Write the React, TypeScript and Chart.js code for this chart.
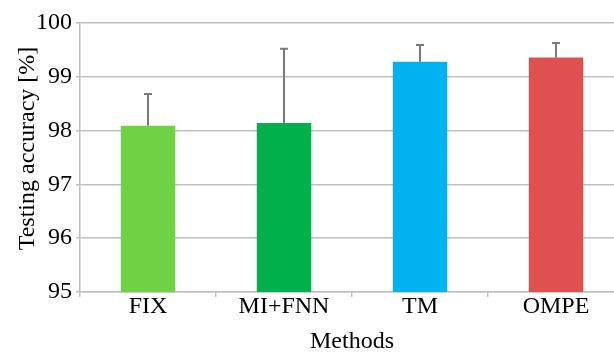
import React, { useEffect, useRef } from "react";
import { Chart, registerables } from "chart.js";

Chart.register(...registerables);

const categories = ["FIX", "MI+FNN", "TM", "OMPE"];
const accuracy = [98.09, 98.14, 99.28, 99.36];
const errorUpper = [0.59, 1.38, 0.31, 0.27];
const barColors = ["#6fd244", "#00b04a", "#00b2f0", "#df5050"];
const yTicks = [95, 96, 97, 98, 99, 100];

const FONT = "'Liberation Serif', 'Times New Roman', serif";

const errorBarPlugin = {
  id: "errorBars",
  afterDatasetsDraw(chart: any) {
    const ctx = chart.ctx;
    const meta = chart.getDatasetMeta(0);
    const y = chart.scales.y;
    ctx.save();
    ctx.strokeStyle = "#7a7a7a";
    ctx.lineWidth = 2;
    meta.data.forEach((bar: any, i: number) => {
      const x = bar.x;
      const top = y.getPixelForValue(accuracy[i] + errorUpper[i]);
      const base = y.getPixelForValue(accuracy[i]);
      ctx.beginPath();
      ctx.moveTo(x, base);
      ctx.lineTo(x, top);
      ctx.moveTo(x - 4, top);
      ctx.lineTo(x + 4, top);
      ctx.stroke();
    });
    ctx.restore();
  },
};

const yTitlePlugin = {
  id: "yTitle",
  afterDraw(chart: any) {
    const ctx = chart.ctx;
    const area = chart.chartArea;
    ctx.save();
    ctx.font = `24px ${FONT}`;
    ctx.fillStyle = "#000";
    ctx.textAlign = "center";
    ctx.textBaseline = "middle";
    ctx.translate(28, (area.top + area.bottom) / 2 - 9);
    ctx.rotate(-Math.PI / 2);
    ctx.fillText("Testing accuracy [%]", 0, 0);
    ctx.restore();
  },
};

export default function App() {
  const ref = useRef<HTMLCanvasElement>(null);
  useEffect(() => {
    if (!ref.current) return;
    const chart = new Chart(ref.current, {
      type: "bar",
      data: {
        labels: categories,
        datasets: [
          {
            data: accuracy,
            backgroundColor: barColors,
            borderWidth: 0,
            barPercentage: 0.4,
            categoryPercentage: 1,
          },
        ],
      },
      options: {
        animation: false,
        responsive: false,
        maintainAspectRatio: false,
        layout: { padding: { top: 23, right: 16, left: 0, bottom: 0 } },
        plugins: {
          legend: { display: false },
          tooltip: { enabled: false },
        },
        scales: {
          x: {
            grid: {
              drawOnChartArea: false,
              offset: true,
              tickLength: 5,
              color: "#bfbfbf",
              lineWidth: 1.5,
            },
            border: { color: "#bfbfbf", width: 1.5 },
            ticks: {
              color: "#000",
              font: { family: FONT, size: 24 },
              padding: -5,
            },
            title: {
              display: true,
              text: "Methods",
              color: "#000",
              font: { family: FONT, size: 24 },
              padding: { top: 0, bottom: 0 },
            },
            afterFit(scale: any) {
              scale.height = 64;
            },
          },
          y: {
            min: 95,
            max: 100,
            afterBuildTicks(scale: any) {
              scale.ticks = yTicks.map((v) => ({ value: v }));
            },
            grid: {
              color: "#bfbfbf",
              lineWidth: 1.5,
              tickLength: 4,
            },
            border: { color: "#bfbfbf", width: 1.5 },
            ticks: {
              color: "#000",
              font: { family: FONT, size: 24 },
              padding: 4,
            },
            afterFit(scale: any) {
              scale.width = 80;
            },
          },
        },
      },
      plugins: [errorBarPlugin, yTitlePlugin],
    });
    return () => chart.destroy();
  }, []);
  return (
    <div
      style={{
        position: "fixed",
        left: 0,
        top: 0,
        width: 614,
        height: 356,
        overflow: "hidden",
        background: "#fff",
      }}
    >
      <canvas ref={ref} width={640} height={356} style={{ display: "block" }} />
    </div>
  );
}
